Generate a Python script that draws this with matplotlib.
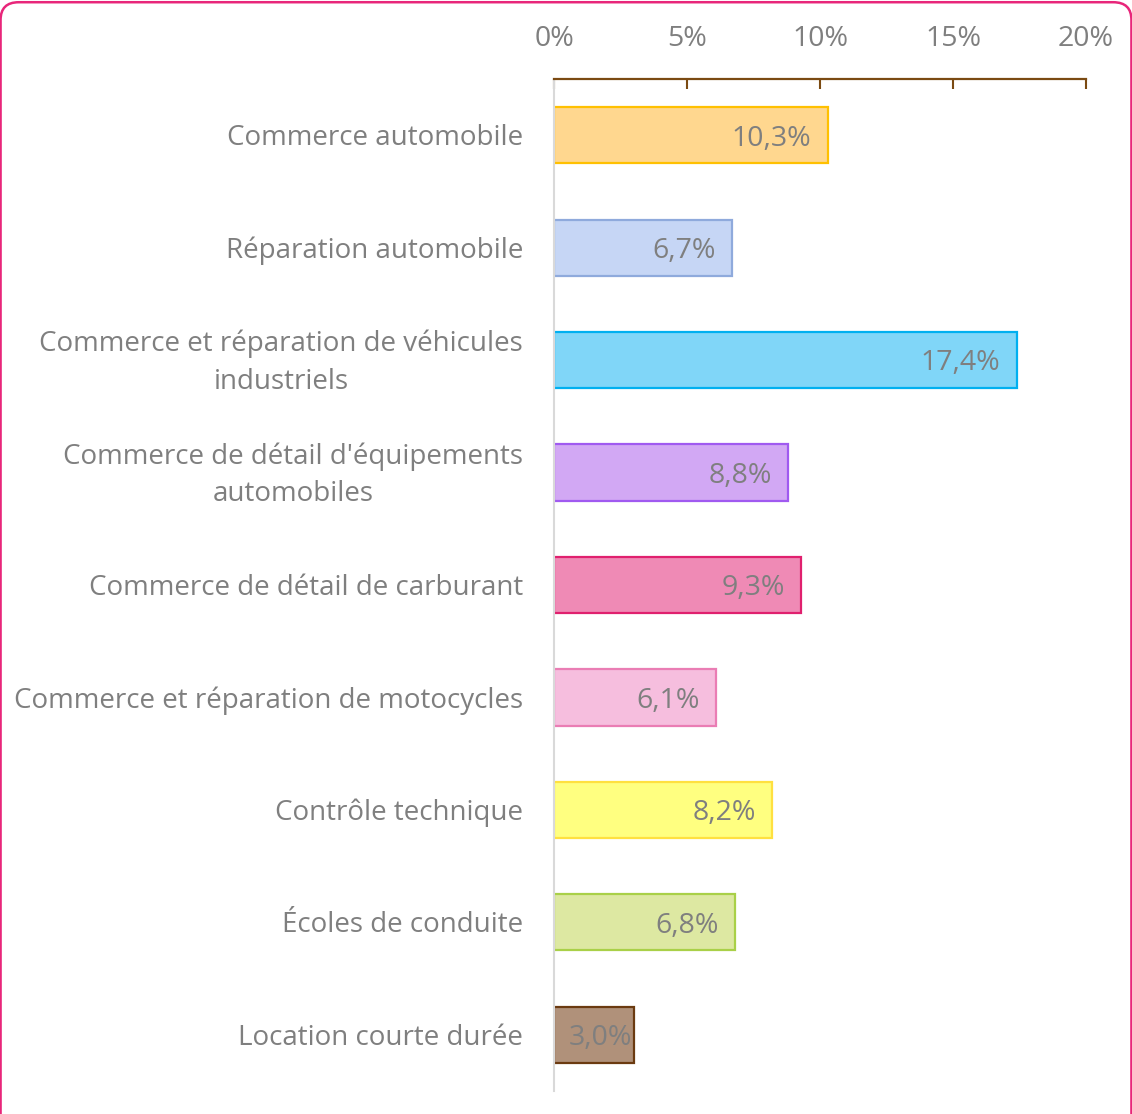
import numpy as np
import matplotlib.pyplot as plt
import matplotlib.transforms as mtransforms
from matplotlib.patches import FancyBboxPatch

plt.rcParams['font.family'] = ['Open Sans', 'DejaVu Sans']

categories = ["Commerce automobile",
              "Réparation automobile",
              "Commerce et réparation de véhicules\nindustriels",
              "Commerce de détail d'équipements\nautomobiles",
              "Commerce de détail de carburant",
              "Commerce et réparation de motocycles",
              "Contrôle technique",
              "Écoles de conduite",
              "Location courte durée"]
values = [10.3, 6.7, 17.4, 8.8, 9.3, 6.1, 8.2, 6.8, 3.0]
fills = ['#FFD78F', '#C6D6F5', '#80D6F8', '#D2A8F4', '#EF8AB5',
         '#F6BEDE', '#FFFF80', '#DDE8A2', '#B0917A']
edges = ['#FFC000', '#8FAADC', '#00B0F0', '#A05AF0', '#E0206E',
         '#EA7DB4', '#FFE040', '#A9D048', '#6B3A10']
xticks = [0, 5, 10, 15, 20]

grey = '#7F7F7F'
fs = 20

fig = plt.figure(figsize=(11.32, 11.14), dpi=100)
ax = fig.add_axes([554/1132, 1-1091/1114, 532/1132, 1012/1114])

y = np.arange(len(categories))
ax.barh(y, values, height=0.5, color=fills, edgecolor=edges, linewidth=1.6)
for yi, v in zip(y, values):
    # short bar: label sticks to the bar end
    xr = v - 0.62 if v > 4 else v - 0.08
    ax.text(xr, yi + 0.03, f"{v:.1f}%".replace('.', ','), ha='right', va='center',
            fontsize=20.5, color=grey)

ax.set_ylim(len(categories) - 0.5, -0.5)
ax.set_xlim(0, 20)
ax.set_yticks(y)
ax.set_yticklabels([])
ax.tick_params(axis='y', length=0)

# category labels, placed by hand to centre the two-line ones
for yi, lab in zip(y, categories):
    dy = -2.5 if '\n' in lab else -3
    tr = ax.get_yaxis_transform() + mtransforms.ScaledTranslation(-31/100, dy/100, fig.dpi_scale_trans)
    ax.text(0, yi, lab, transform=tr, ha='right', va='center', fontsize=fs, color=grey,
            multialignment='center', linespacing=1.45)

ax.xaxis.tick_top()
ax.set_xticks(xticks)
ax.set_xticklabels([f"{t}%" for t in xticks], fontsize=20.5, color=grey)
ax.tick_params(axis='x', direction='in', length=7, width=1.5, color='#7B4A12', pad=19)

for s in ['right', 'bottom']:
    ax.spines[s].set_visible(False)
ax.spines['top'].set_color('#7B4A12')
ax.spines['top'].set_linewidth(1.6)
ax.spines['left'].set_color('#D9D9D9')
ax.spines['left'].set_linewidth(1.5)

border = FancyBboxPatch((0.0005, -0.05), 0.999, 1.048, boxstyle='round,pad=0,rounding_size=0.016',
                        transform=fig.transFigure, facecolor='none', edgecolor='#E8267A',
                        linewidth=1.8, clip_on=False)
fig.patches.append(border)

fig.savefig('out.png', dpi=100)
